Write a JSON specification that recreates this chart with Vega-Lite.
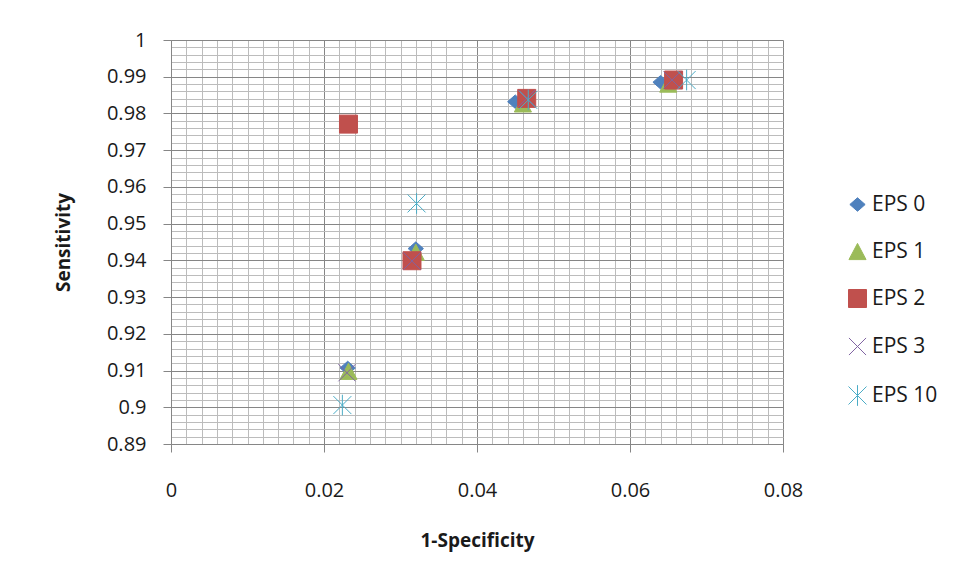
{
  "$schema": "https://vega.github.io/schema/vega-lite/v6.json",
  "autosize": {"type": "none"},
  "padding": {"left": 171, "top": 40, "right": 176, "bottom": 137},
  "width": 612,
  "height": 404,
  "background": "white",
  "config": {
    "font": "Open Sans",
    "view": {"stroke": null},
    "axis": {"labelFont": "Open Sans", "titleFont": "Open Sans"}
  },
  "data": {
    "values": [
      {"series": "EPS 0", "fpr": 0.0231, "sens": 0.9107},
      {"series": "EPS 0", "fpr": 0.0320, "sens": 0.9432},
      {"series": "EPS 0", "fpr": 0.0450, "sens": 0.9832},
      {"series": "EPS 0", "fpr": 0.0640, "sens": 0.9885},
      {"series": "EPS 1", "fpr": 0.0232, "sens": 0.9098},
      {"series": "EPS 1", "fpr": 0.0320, "sens": 0.9422},
      {"series": "EPS 1", "fpr": 0.0460, "sens": 0.9826},
      {"series": "EPS 1", "fpr": 0.0650, "sens": 0.9880},
      {"series": "EPS 2", "fpr": 0.0232, "sens": 0.9771},
      {"series": "EPS 2", "fpr": 0.0315, "sens": 0.9399},
      {"series": "EPS 2", "fpr": 0.0465, "sens": 0.9841},
      {"series": "EPS 2", "fpr": 0.0657, "sens": 0.9891},
      {"series": "EPS 3", "fpr": 0.0230, "sens": 0.9094},
      {"series": "EPS 3", "fpr": 0.0315, "sens": 0.9398},
      {"series": "EPS 3", "fpr": 0.0465, "sens": 0.9841},
      {"series": "EPS 3", "fpr": 0.0655, "sens": 0.9891},
      {"series": "EPS 10", "fpr": 0.0224, "sens": 0.9006},
      {"series": "EPS 10", "fpr": 0.0321, "sens": 0.9555},
      {"series": "EPS 10", "fpr": 0.0467, "sens": 0.9837},
      {"series": "EPS 10", "fpr": 0.0674, "sens": 0.9891}
    ]
  },
  "resolve": {"axis": {"x": "independent", "y": "independent"}},
  "layer": [
    {
      "transform": [{"filter": "datum.series == 'EPS 0' || datum.series == 'EPS 1' || datum.series == 'EPS 2'"}],
      "mark": {"type": "point", "filled": true, "opacity": 1, "strokeWidth": 1, "size": 324},
      "encoding": {
        "x": {"field": "fpr", "type": "quantitative",
          "scale": {"domain": [0, 0.08], "nice": false, "zero": false},
          "axis": {"orient": "bottom", "values": [0.002,0.004,0.006,0.008,0.01,0.012,0.014,0.016,0.018,0.022,0.024,0.026,0.028,0.03,0.032,0.034,0.036,0.038,0.042,0.044,0.046,0.048,0.05,0.052,0.054,0.056,0.058,0.062,0.064,0.066,0.068,0.07,0.072,0.074,0.076,0.078],
            "grid": true, "gridColor": "#bcbcbc", "gridWidth": 1, "gridOpacity": 1,
            "labels": false, "ticks": false, "domain": false, "title": null}},
        "y": {"field": "sens", "type": "quantitative",
          "scale": {"domain": [0.89, 1], "nice": false, "zero": false},
          "axis": {"orient": "left", "values": [0.892,0.894,0.896,0.898,0.902,0.904,0.906,0.908,0.912,0.914,0.916,0.918,0.922,0.924,0.926,0.928,0.932,0.934,0.936,0.938,0.942,0.944,0.946,0.948,0.952,0.954,0.956,0.958,0.962,0.964,0.966,0.968,0.972,0.974,0.976,0.978,0.982,0.984,0.986,0.988,0.992,0.994,0.996,0.998],
            "grid": true, "gridColor": "#bcbcbc", "gridWidth": 1, "gridOpacity": 1,
            "labels": false, "ticks": false, "domain": false, "title": null}},
        "fill": {"field": "series", "type": "nominal",
          "scale": {"domain": ["EPS 0","EPS 1","EPS 2","EPS 3","EPS 10"], "range": ["#4F81BD","#9BBB59","#C0504D","#8064A2","#4BACC6"]},
          "legend": {"orient": "none", "legendX": 676, "legendY": 154, "title": null, "padding": 0,
            "labelFont": "Open Sans", "labelFontSize": 21, "labelColor": "#1a1a1a", "labelOffset": 4,
            "symbolSize": 324, "rowPadding": 25, "symbolStrokeWidth": 1}},
        "stroke": {"field": "series", "type": "nominal",
          "scale": {"domain": ["EPS 0","EPS 1","EPS 2","EPS 3","EPS 10"], "range": ["#4F81BD","#9BBB59","#C0504D","#8064A2","#4BACC6"]},
          "legend": {"orient": "none", "legendX": 676, "legendY": 154, "title": null, "padding": 0,
            "labelFont": "Open Sans", "labelFontSize": 21, "labelColor": "#1a1a1a", "labelOffset": 4,
            "symbolSize": 324, "rowPadding": 25, "symbolStrokeWidth": 1}},
        "shape": {"field": "series", "type": "nominal",
          "scale": {"domain": ["EPS 0","EPS 1","EPS 2","EPS 3","EPS 10"],
            "range": ["M-0.85,0L0,-0.75L0.85,0L0,0.75Z", "M0,-0.9L0.95,0.9L-0.95,0.9Z", "M-1,-1L1,-1L1,1L-1,1Z", "M-0.95,-0.95L0.95,0.95M-0.95,0.95L0.95,-0.95", "M-1,-1L1,1M-1,1L1,-1M0,-1.15L0,1.15"]},
          "legend": {"orient": "none", "legendX": 676, "legendY": 154, "title": null, "padding": 0,
            "labelFont": "Open Sans", "labelFontSize": 21, "labelColor": "#1a1a1a", "labelOffset": 4,
            "symbolSize": 324, "rowPadding": 25, "symbolStrokeWidth": 1}}
      }
    },
    {
      "transform": [{"filter": "datum.series == 'EPS 3' || datum.series == 'EPS 10'"}],
      "mark": {"type": "point", "filled": true, "opacity": 1, "strokeWidth": 1, "size": 324},
      "encoding": {
        "x": {"field": "fpr", "type": "quantitative",
          "axis": {"orient": "bottom", "values": [0, 0.02, 0.04, 0.06, 0.08], "format": ".2~f",
            "grid": true, "gridColor": "#868686", "gridWidth": 1, "gridOpacity": 1,
            "domain": true, "domainColor": "#868686", "domainWidth": 1,
            "ticks": true, "tickColor": "#868686", "tickSize": 8,
            "labelFontSize": 20, "labelColor": "#1a1a1a", "labelPadding": 28, "labelFlush": false,
            "title": "1-Specificity", "titleFontSize": 19, "titleFontWeight": "bold", "titleColor": "#1a1a1a", "titlePadding": 31}},
        "y": {"field": "sens", "type": "quantitative",
          "axis": {"orient": "left", "values": [0.89,0.9,0.91,0.92,0.93,0.94,0.95,0.96,0.97,0.98,0.99,1], "format": ".2~f",
            "grid": true, "gridColor": "#868686", "gridWidth": 1, "gridOpacity": 1,
            "domain": true, "domainColor": "#868686", "domainWidth": 1,
            "ticks": true, "tickColor": "#868686", "tickSize": 8,
            "labelFontSize": 20, "labelColor": "#1a1a1a", "labelPadding": 17, "labelFlush": false,
            "title": "Sensitivity", "titleFontSize": 19, "titleFontWeight": "bold", "titleColor": "#1a1a1a", "titlePadding": 33}},
        "fill": {"field": "series", "type": "nominal"},
        "stroke": {"field": "series", "type": "nominal"},
        "shape": {"field": "series", "type": "nominal"}
      }
    }
  ]
}
